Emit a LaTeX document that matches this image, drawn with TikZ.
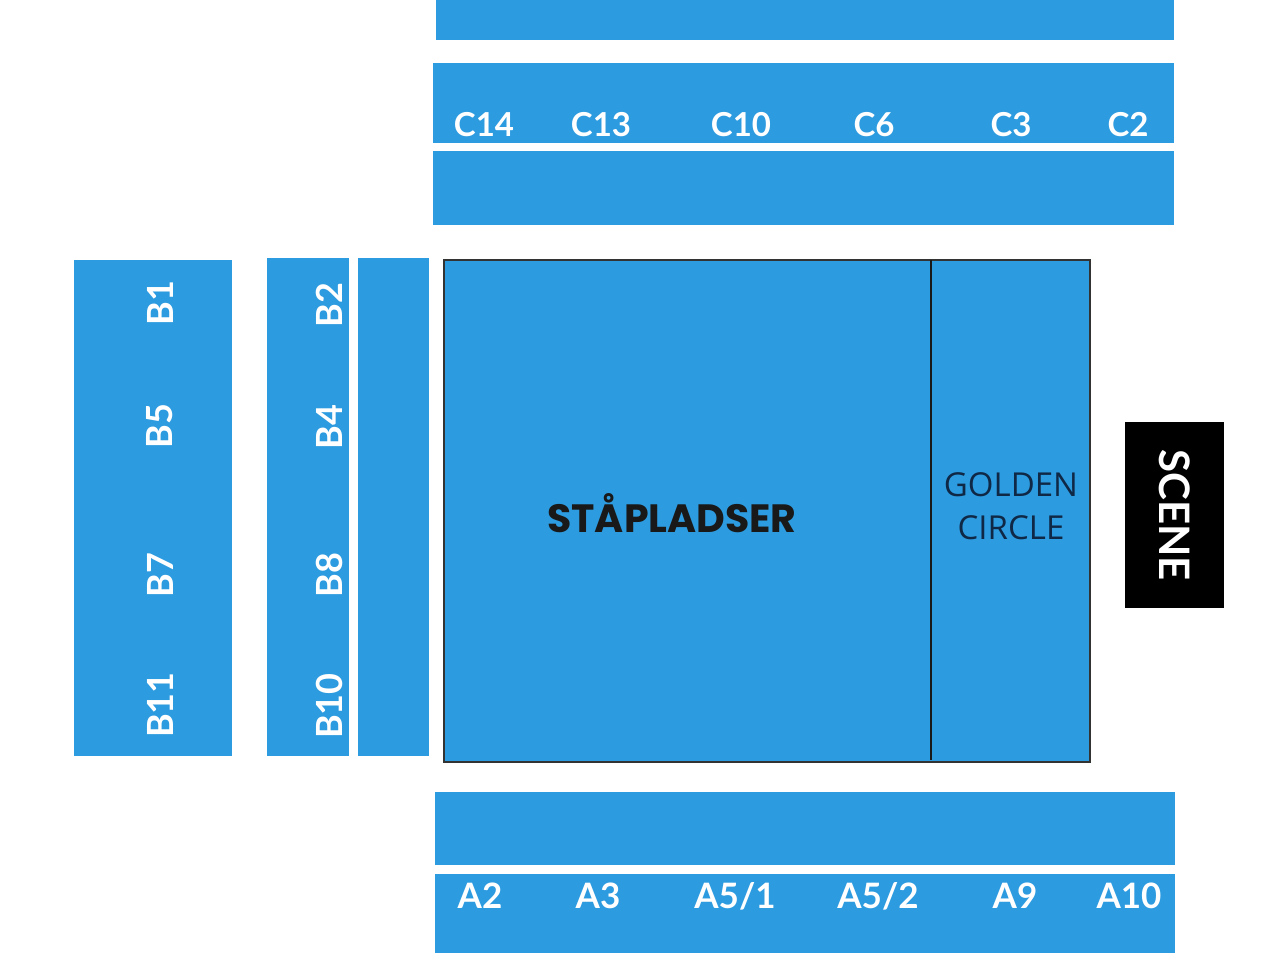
\documentclass[tikz,border=0pt]{standalone}
\usepackage{fontspec}
\setmainfont{Lato}
\newfontfamily\popfont{Poppins}
\newfontfamily\opensans{Open Sans}
\definecolor{seat}{RGB}{45,155,224}
\definecolor{navy}{RGB}{15,40,70}
\begin{document}
\begin{tikzpicture}[x=1pt,y=-1pt,
  blk/.style={fill=seat,draw=none},
  lbl/.style={text=white,font=\bfseries\fontsize{33}{33}\selectfont,inner sep=0pt,anchor=base},
  blbl/.style={text=white,font=\bfseries\fontsize{36}{36}\selectfont,inner sep=0pt,rotate=90}]
\useasboundingbox (0,0) rectangle (1280,960);
% top bands
\fill[seat] (436,0) rectangle (1174,40);
\fill[seat] (433,63) rectangle (1174,143);
\fill[seat] (433,151) rectangle (1174,225);
\foreach \t/\x in {C14/484,C13/601,C10/741,C6/874,C3/1011,C2/1128}
  \node[lbl] (c\t) at (\x,137) {\t};
% left blocks
\fill[seat] (74,260) rectangle (232,756);
\fill[seat] (267,258) rectangle (349,756);
\fill[seat] (358,258) rectangle (429,756);
\foreach \t/\y in {B1/303,B5/426,B7/575,B11/705}
  \node[blbl] (b\t) at (160,\y) {\t};
\foreach \t/\y in {B2/305,B4/427,B8/575,B10/706}
  \node[blbl] (b\t) at (329,\y) {\t};
% main floor
\node[draw=black!80,line width=2pt,fill=seat,minimum width=646pt,minimum height=502pt,anchor=north west,inner sep=0pt] (floor) at (443,259) {};
\draw[line width=2.5pt,black!90] (931,260) -- (931,760);
\node[font=\popfont\bfseries\fontsize{39.5}{39.5}\selectfont,text=black!90,inner sep=0pt,anchor=base] (stand) at (672,532) {STÅPLADSER};
\node[font=\opensans\fontsize{33}{43}\selectfont,text=navy,align=center,inner sep=0pt] (gc) at (1011,506) {GOLDEN\\CIRCLE};
% scene
\node[fill=black,minimum width=99pt,minimum height=186pt,inner sep=0pt] (scene) at (1174.5,515) {};
\node[text=white,font=\bfseries\fontsize{42}{42}\selectfont,rotate=-90,inner sep=0pt] (scenetxt) at (scene.center) {SCENE};
% bottom bands
\fill[seat] (435,792) rectangle (1175,865);
\fill[seat] (435,874) rectangle (1175,953);
\foreach \t/\x/\n in {A2/480/1,A3/598/2,A5\slash 1/735/3,A5\slash 2/878/4,A9/1015/5,A10/1129/6}
  \node[lbl,font=\bfseries\fontsize{35}{35}\selectfont] (a\n) at (\x,908) {\t};
\end{tikzpicture}
\end{document}
